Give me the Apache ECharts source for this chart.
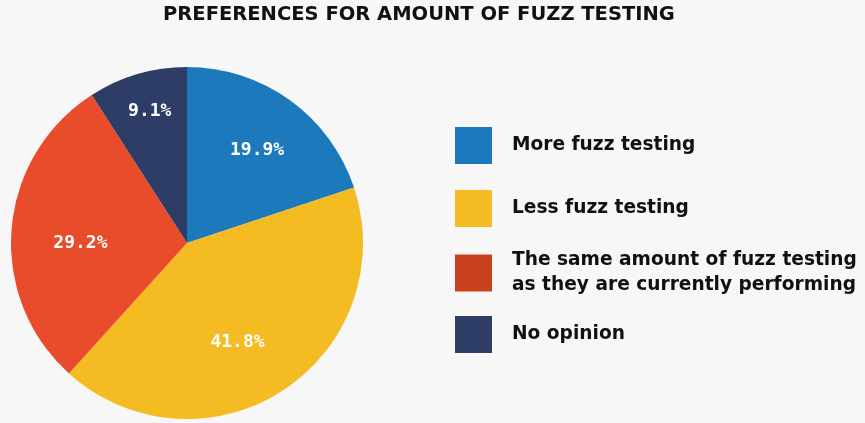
<!DOCTYPE html>
<html>
<head>
<meta charset="utf-8">
<script src="https://cdn.jsdelivr.net/npm/echarts@6/dist/echarts.min.js"></script>
<style>
  html, body { margin: 0; padding: 0; background: #f6f7f6; }
  #chart { width: 865px; height: 423px; }
</style>
</head>
<body>
<div id="chart"></div>
<script>
// data
const categories = [
  "More fuzz testing",
  "Less fuzz testing",
  "The same amount of fuzz testing\nas they are currently performing",
  "No opinion"
];
const shares = [19.9, 41.8, 29.2, 9.1];
const sliceColors  = ["#1b79bc", "#f4bc22", "#e84c2a", "#2e3d65"];
const legendColors = ["#1b79bc", "#f4bc22", "#c9401f", "#2e3d65"];

const chart = echarts.init(document.getElementById("chart"));

const pieData = categories.map((name, i) => ({
  name, value: shares[i], itemStyle: { color: sliceColors[i] }
}));

// one legend per item so spacing stays even despite the two-line entry
// (the two-line item is taller, so its top is pulled up to keep the box in line)
const legendTops = [122, 185, 243, 311];
const legends = categories.map((name, i) => ({
  left: 450,
  top: legendTops[i],
  orient: "vertical",
  icon: "rect",
  itemWidth: 37,
  itemHeight: 37,
  selectedMode: false,
  data: [{ name, itemStyle: { color: legendColors[i] } }],
  textStyle: {
    fontFamily: "DejaVu Sans",
    fontWeight: "bold",
    fontSize: 18.6,
    lineHeight: 25,
    color: "#111",
    padding: [0, 0, 0, 15]
  }
}));

// small nudges so the percentages sit where the original put them
const labelNudge = [[1, 3], [-14, 0], [11, 10], [-4, -18]];

const option = {
  backgroundColor: "#f6f7f6",
  title: {
    text: "PREFERENCES FOR AMOUNT OF FUZZ TESTING",
    left: 158,
    top: 0,
    textStyle: { fontFamily: "DejaVu Sans", fontWeight: "bold", fontSize: 19.5, color: "#111" }
  },
  legend: legends,
  series: [
    {
      type: "pie",
      center: [187, 243],
      radius: [0, 176],
      startAngle: 90,
      clockwise: true,
      silent: true,
      label: { show: false },
      labelLine: { show: false },
      data: pieData
    },
    {
      // transparent ring that only carries the labels further out
      type: "pie",
      center: [187, 243],
      radius: [54, 176],
      startAngle: 90,
      clockwise: true,
      silent: true,
      itemStyle: { color: "transparent" },
      label: {
        show: true,
        position: "inside",
        formatter: (p) => p.value.toFixed(1) + "%",
        fontFamily: "DejaVu Sans Mono",
        fontWeight: "bold",
        fontSize: 18,
        color: "#fff"
      },
      labelLine: { show: false },
      labelLayout: (p) => ({ dx: labelNudge[p.dataIndex][0], dy: labelNudge[p.dataIndex][1] }),
      data: shares.map((v, i) => ({ name: categories[i], value: v }))
    }
  ]
};

chart.setOption(option);
</script>
</body>
</html>
